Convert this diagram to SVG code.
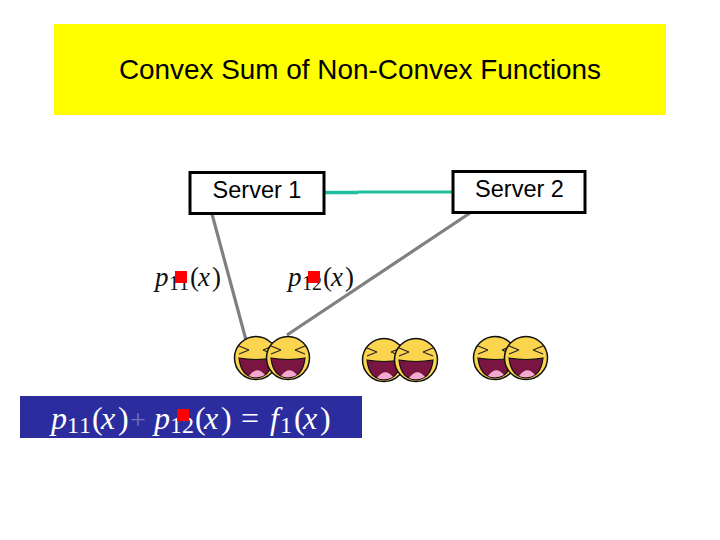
<svg xmlns="http://www.w3.org/2000/svg" width="720" height="540" viewBox="0 0 720 540">
<style>
.sans{font-family:"Liberation Sans",Arial,sans-serif;fill:#000}
.m{font-family:"Liberation Serif","Times New Roman",serif;font-size:27px;fill:#111}
.e{font-size:32px;fill:#fff}
.i{font-style:italic}
.s{font-size:20px}
.es{font-size:24px}
.box{fill:#fff;stroke:#000;stroke-width:3}
.gray{stroke:#808080;stroke-width:3.200;fill:none}
.red{fill:#f00}
</style>
<defs>
<g id="face">
<circle r="21.500" fill="#fbd54e" stroke="#111" stroke-width="1.500"/>
<path d="M-17-4 -7-8M-17-12 -7-8M17-4 7-8M17-12 7-8" stroke="#222" stroke-width="1.300" fill="none"/>
<path d="M-17 0Q0 3 17 0Q15 19 0 20Q-15 19-17 0Z" fill="#7a1440" stroke="#111" stroke-width="1.200"/>
<path d="M-7 18Q1 7 9 17Q1 21-7 18Z" fill="#f4a9d0"/>
</g>
</defs>
<rect width="720" height="540" fill="#fff"/>
<g id="title">
<rect x="54" y="24" width="612" height="91" fill="#ff0"/>
<text class="sans" x="360" y="79" font-size="27.900" text-anchor="middle">Convex Sum of Non-Convex Functions</text>
</g>
<g id="connectors">
<path d="M358 192H453" stroke="#1fbf9f" stroke-width="2.800" fill="none"/>
<path d="M323 192.500H358" stroke="#1fbf9f" stroke-width="3.500" fill="none"/>
<path class="gray" d="M212 214 246 340"/>
<path class="gray" d="M473 211 287 335"/>
</g>
<g id="server1">
<rect class="box" x="190" y="172.500" width="134" height="41"/>
<text class="sans" x="257" y="198" font-size="23.500" text-anchor="middle">Server 1</text>
</g>
<g id="server2">
<rect class="box" x="453" y="171.500" width="132" height="41"/>
<text class="sans" x="519.500" y="197" font-size="23.500" text-anchor="middle">Server 2</text>
</g>
<g id="p11">
<text class="m" y="286"><tspan class="i" x="155">p</tspan><tspan class="s" dy="4" x="169 179">11</tspan><tspan dy="-4" x="190">(</tspan><tspan class="i" x="198">x</tspan><tspan x="212">)</tspan></text>
<rect class="red" x="175" y="271" width="12" height="12"/>
</g>
<g id="p12">
<text class="m" y="286"><tspan class="i" x="288">p</tspan><tspan class="s" dy="4" x="302 312">12</tspan><tspan dy="-4" x="323">(</tspan><tspan class="i" x="331">x</tspan><tspan x="345">)</tspan></text>
<rect class="red" x="308" y="271" width="12" height="12"/>
</g>
<g id="clients1"><use href="#face" x="256" y="358"/><use href="#face" x="288" y="358"/></g>
<g id="clients2"><use href="#face" x="384" y="360"/><use href="#face" x="416" y="360"/></g>
<g id="clients3"><use href="#face" x="495" y="358"/><use href="#face" x="526" y="358"/></g>
<g id="equation">
<rect x="20" y="396" width="342" height="42" fill="#2b2d9e"/>
<text class="m e" y="429"><tspan class="i" x="51">p</tspan><tspan class="es" dy="4" x="67 79">11</tspan><tspan dy="-4" x="92">(</tspan><tspan class="i" x="101">x</tspan><tspan x="118">)</tspan></text>
<text class="m" x="130" y="429" style="font-size:28px;fill:#6f72c0">+</text>
<text class="m e" y="429"><tspan class="i" x="154">p</tspan><tspan class="es" dy="4" x="170 182">12</tspan><tspan dy="-4" x="195">(</tspan><tspan class="i" x="204">x</tspan><tspan x="221">)</tspan><tspan x="241" style="font-size:32px">=</tspan><tspan class="i" x="270">f</tspan><tspan class="es" dy="4" x="280">1</tspan><tspan dy="-4" x="294">(</tspan><tspan class="i" x="303">x</tspan><tspan x="320">)</tspan></text>
<rect class="red" x="177" y="409" width="12" height="12"/>
</g>
</svg>
